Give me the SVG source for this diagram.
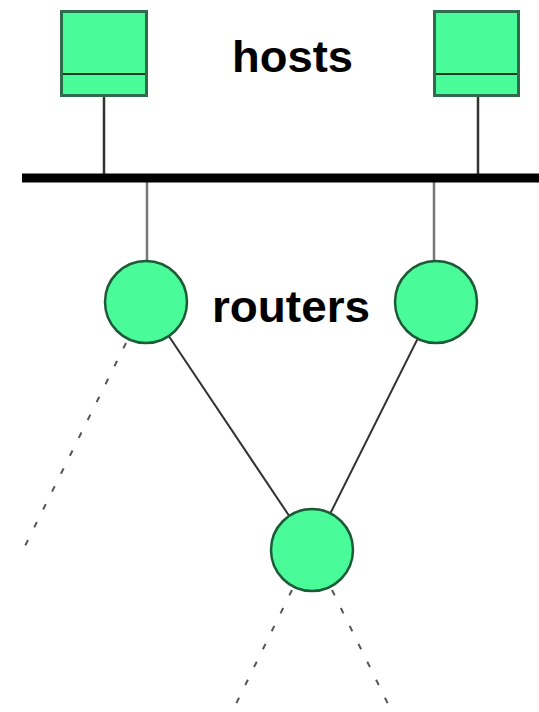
<svg xmlns="http://www.w3.org/2000/svg" width="539" height="712" viewBox="0 0 539 712">
<style>
.host{fill:#4afb99;stroke:#2f6b4c;stroke-width:3}
.hl{stroke:#0d3a20;stroke-width:2}
.router{fill:#4afb99;stroke:#1c5a38;stroke-width:2.5}
.stem{stroke:#333;stroke-width:2.5}
.rstem{stroke:#777;stroke-width:2.5}
.link{stroke:#333;stroke-width:2}
.dash{stroke:#555;stroke-width:2;stroke-dasharray:6 14}
.lbl{font-family:"Liberation Sans",Arial,sans-serif;font-weight:bold;font-size:45px;fill:#000}
</style>
<rect width="539" height="712" fill="#fff"/>
<g id="connectors">
<line class="stem" x1="104" y1="96" x2="104" y2="178"/>
<line class="stem" x1="478" y1="96" x2="478" y2="178"/>
<line class="rstem" x1="147" y1="178" x2="147" y2="262"/>
<line class="rstem" x1="434" y1="178" x2="434" y2="262"/>
<line class="link" x1="146" y1="302" x2="312" y2="550"/>
<line class="link" x1="436" y1="302" x2="312" y2="550"/>
<line class="dash" x1="126" y1="343" x2="22" y2="552"/>
<line class="dash" x1="292" y1="590" x2="233" y2="710"/>
<line class="dash" x1="332" y1="590" x2="391" y2="710"/>
</g>
<g id="bus"><line x1="22" y1="178" x2="539" y2="178" stroke="#000" stroke-width="9"/></g>
<g id="host1">
<rect class="host" x="61.5" y="11.5" width="85" height="84"/>
<line class="hl" x1="63" y1="74" x2="145" y2="74"/>
</g>
<g id="host2">
<rect class="host" x="434.5" y="11.5" width="84" height="84"/>
<line class="hl" x1="436" y1="74" x2="517" y2="74"/>
</g>
<g id="router1"><circle class="router" cx="146" cy="302" r="41"/></g>
<g id="router2"><circle class="router" cx="436" cy="302" r="41"/></g>
<g id="router3"><circle class="router" cx="312" cy="550" r="41"/></g>
<g id="labels">
<text class="lbl" x="232" y="72" textLength="121" lengthAdjust="spacingAndGlyphs">hosts</text>
<text class="lbl" x="212" y="322" textLength="158" lengthAdjust="spacingAndGlyphs">routers</text>
</g>
</svg>
